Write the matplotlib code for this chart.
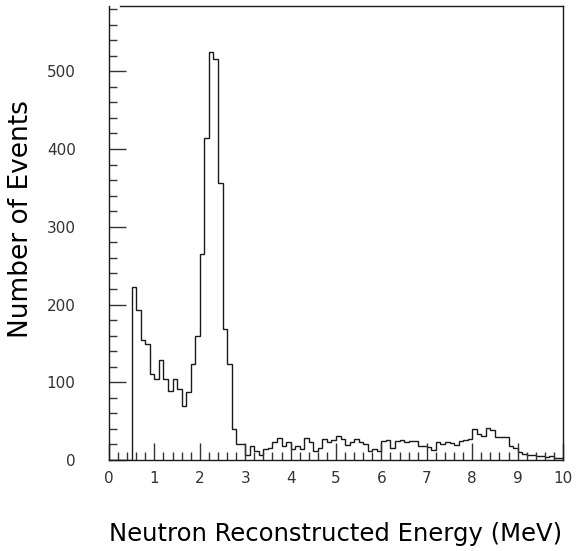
import numpy as np
import matplotlib
matplotlib.use("Agg")
import matplotlib.pyplot as plt
from matplotlib.ticker import MultipleLocator

# Histogram: 100 bins of 0.1 MeV from 0 to 10 MeV
bin_lo = 0.0
bin_hi = 10.0
n_bins = 100
counts = [
    0, 0, 0, 0, 0, 223, 193, 154, 149, 110,          # 0.0 - 1.0
    104, 128, 104, 89, 104, 91, 69, 88, 124, 160,    # 1.0 - 2.0
    265, 414, 525, 516, 356, 169, 124, 40, 21, 21,   # 2.0 - 3.0
    7, 18, 12, 7, 14, 16, 23, 28, 18, 23,            # 3.0 - 4.0
    14, 18, 14, 28, 23, 11, 16, 27, 23, 26,          # 4.0 - 5.0
    31, 27, 19, 23, 27, 23, 21, 11, 14, 11,          # 5.0 - 6.0
    25, 26, 16, 25, 26, 23, 24, 25, 18, 18,          # 6.0 - 7.0
    17, 13, 23, 20, 23, 22, 19, 25, 26, 27,          # 7.0 - 8.0
    40, 34, 31, 41, 38, 30, 30, 30, 18, 15,          # 8.0 - 9.0
    10, 8, 7, 6, 5, 5, 4, 5, 3, 2,                   # 9.0 - 10.0
]
x_label = "Neutron Reconstructed Energy (MeV)"
y_label = "Number of Events"

edges = np.linspace(bin_lo, bin_hi, n_bins + 1)

text_color = "#333333"
plt.rcParams["font.family"] = ["DejaVu Sans"]
plt.rcParams["text.color"] = text_color
plt.rcParams["xtick.labelcolor"] = text_color
plt.rcParams["ytick.labelcolor"] = text_color

fig = plt.figure(figsize=(5.77, 5.51), dpi=100)
ax = fig.add_axes([109/577, 1 - 460/551, (563 - 109)/577, (460 - 6)/551])

ax.stairs(counts, edges, color="#1a1a1a", linewidth=1.0)

ax.set_xlim(0, 10)
ax.set_ylim(0, 584)

ax.xaxis.set_major_locator(MultipleLocator(1))
ax.xaxis.set_minor_locator(MultipleLocator(0.2))
ax.yaxis.set_major_locator(MultipleLocator(100))
ax.yaxis.set_minor_locator(MultipleLocator(20))

ax.tick_params(which="both", direction="in", top=False, right=False, width=1.0, color="#333333")
ax.tick_params(which="major", length=12)
ax.tick_params(which="minor", length=6)
ax.tick_params(axis="y", which="major", pad=24, labelsize=11)
ax.tick_params(axis="x", which="major", pad=8, labelsize=11)

for s in ax.spines.values():
    s.set_linewidth(1.0)
    s.set_color("#1a1a1a")
ax.spines["top"].set_bounds(0.25, 10)

ax.set_xlabel(x_label, fontsize=17.5, labelpad=26)
ax.set_ylabel(y_label, fontsize=19)
ax.yaxis.set_label_coords(-0.165, 0.53)

fig.savefig("out.png", dpi=100)
